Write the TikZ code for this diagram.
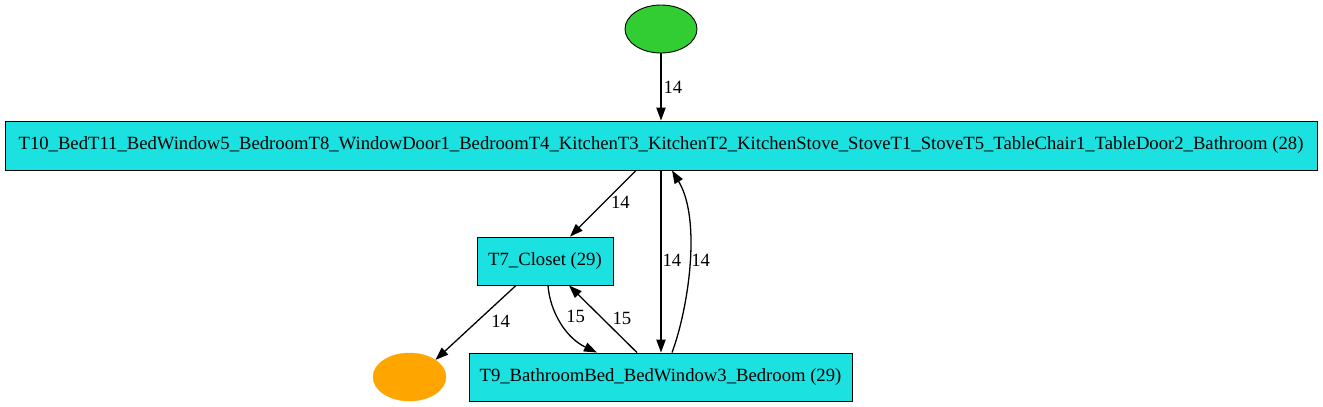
\documentclass[tikz,border=0pt]{standalone}
\usepackage{fontspec}
\setmainfont{Liberation Serif}
\usetikzlibrary{shapes.geometric,arrows.meta}
\definecolor{boxcyan}{HTML}{1CE1E1}
\definecolor{startgreen}{HTML}{32CD32}
\definecolor{endorange}{HTML}{FFA500}
\tikzset{
  statebox/.style={draw=black, fill=boxcyan, rectangle, inner sep=0pt, line width=0.9pt, font=\fontsize{18.67}{21}\selectfont},
  startnode/.style={draw=black, fill=startgreen, ellipse, inner sep=0pt, minimum width=72pt, minimum height=48pt, line width=0.9pt},
  endnode/.style={draw=endorange, fill=endorange, ellipse, inner sep=0pt, minimum width=73pt, minimum height=48pt},
  edge/.style={draw=black, line width=1.3pt, -{Triangle[length=13pt,width=9.3pt]}},
  lbl/.style={font=\fontsize{18.67}{21}\selectfont, inner sep=0pt, anchor=west}
}
\begin{document}
\begin{tikzpicture}[x=1pt,y=-1pt]
\useasboundingbox (0,0) rectangle (1323,407);
\node[startnode] (start) at (661,29) {};
\node[statebox, minimum width=1312pt, minimum height=49pt] (big) at (661,145.5) {T10\_BedT11\_BedWindow5\_BedroomT8\_WindowDoor1\_BedroomT4\_KitchenT3\_KitchenT2\_KitchenStove\_StoveT1\_StoveT5\_TableChair1\_TableDoor2\_Bathroom (28)};
\node[statebox, minimum width=136pt, minimum height=48pt] (t7) at (545,261) {T7\_Closet (29)};
\node[statebox, minimum width=383pt, minimum height=48pt] (t9) at (660.5,377) {T9\_BathroomBed\_BedWindow3\_Bedroom (29)};
\node[endnode] (end) at (409.5,377) {};

\draw[edge] (start.south) -- node[lbl, xshift=2pt] {14} (big.north);
\draw[edge] ([xshift=-25pt]big.south) -- node[lbl, xshift=7.5pt, yshift=1pt] {14} ([xshift=25pt]t7.north);
\draw[edge] (big.south) -- node[lbl, xshift=1pt, yshift=1.5pt] {14} (big.south |- t9.north);
\draw[edge] ([xshift=11.5pt]t9.north) .. controls (688,310) and (702,220) .. node[lbl, xshift=1.5pt, yshift=4pt] {14} ([xshift=11pt]big.south);
\draw[edge] ([xshift=-29pt]t7.south) -- node[lbl, xshift=15pt, yshift=1.5pt] {14} (end.north east);
\draw[edge] ([xshift=3pt]t7.south) .. controls (550,312) and (566,338) .. node[lbl, xshift=4pt, yshift=7pt] {15} ([xshift=-63.5pt]t9.north);
\draw[edge] ([xshift=-23.5pt]t9.north) -- node[lbl, xshift=9pt, yshift=1pt] {15} ([xshift=24pt]t7.south);
\end{tikzpicture}
\end{document}
